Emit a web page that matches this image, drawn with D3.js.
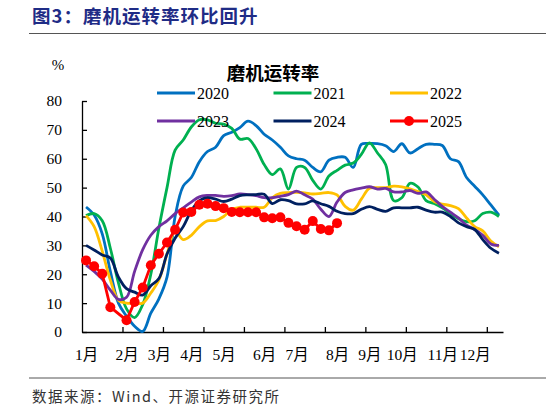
<!DOCTYPE html>
<html>
<head>
<meta charset="utf-8">
<script src="https://cdn.jsdelivr.net/npm/d3@7"></script>
<style>
  body { margin: 0; background: #fff; }
  svg { display: block; }
</style>
</head>
<body>
<svg id="chart" width="546" height="408"></svg>
<script>
// 磨机运转率 (周度, %), 每年 52 周
const years = ["2020", "2021", "2022", "2023", "2024", "2025"];
const colors = ["#0070C0", "#00B050", "#FFC000", "#7030A0", "#002060", "#FF0000"];

const monthLabels = ["1月", "2月", "3月", "4月", "5月", "6月", "7月", "8月", "9月", "10月", "11月", "12月"];
const monthWeeks = [0, 5, 9, 13, 17, 22, 26, 31, 35, 39, 44, 48];
const yTicks = [0, 10, 20, 30, 40, 50, 60, 70, 80];

const rate2020 = [43.3, 40.5, 34, 21, 10, 5.5, 2, 0.2, 6.5, 11.5, 19, 40, 50.5, 53.5, 59, 62.5, 64, 68,
  69.2, 70.8, 73, 71.5, 68.5, 66.5, 64, 61, 60, 59.5, 57, 55.5, 59.5, 60.5, 60.5, 57, 65, 65.3,
  65.2, 64.5, 62.5, 65.2, 62, 63.5, 65, 65, 64.6, 60, 59, 53.5, 50.5, 47.5, 44, 40.5];
const rate2021 = [40.3, 41, 38.5, 29, 17, 8, 5, 9.5, 20, 36, 50, 63, 66.5, 71, 73.5, 73.5, 72.3, 72,
  70.5, 66.8, 67, 63.5, 58, 54.5, 56.5, 49.5, 57, 57, 52.5, 49.5, 54, 56, 57.8, 58.5, 61.5, 65.5,
  62, 58, 45.5, 46.5, 51.5, 50.2, 45.5, 44.5, 43, 41, 39.2, 38.2, 38.5, 41, 41.5, 40];
const rate2022 = [40.3, 36.5, 28, 18, 11, 10, 10, 10, 13.5, 18, 27, 35, 32, 33.5, 36.5, 38.5, 38.6, 40,
  42.5, 43.2, 43.2, 43.2, 43.2, 46.5, 48, 48.3, 48.4, 48.2, 47.8, 48, 48.3, 47.5, 43.5, 42.2, 46, 49.8,
  50, 50, 50.5, 50.3, 49.6, 48.6, 47.5, 45.2, 44.3, 43.8, 42.7, 39.5, 36.5, 35, 31.5, 29.5];
const rate2023 = [23.2, 21, 18.3, 14.5, 11.3, 12, 21, 28.5, 33.5, 36.5, 38.5, 41, 43, 45, 46.8, 47.3, 47.3, 47,
  47.2, 47.8, 47.6, 47.2, 46.5, 46.5, 47, 47.6, 48.8, 47.5, 46, 42.5, 40, 45, 48.3, 49.2, 49.8, 50.3,
  49.5, 49.7, 48.5, 48.5, 49, 48, 48.5, 46, 43.5, 41.5, 39.5, 37, 35.5, 33.5, 30.5, 30];
const rate2024 = [30, 28.4, 26.7, 25.6, 19, 15, 13.8, 12.8, 16, 18.5, 27, 32.5, 36.5, 42, 45.5, 46.5, 46, 45.2,
  46, 47.2, 47.5, 47.6, 47.7, 44.5, 45.8, 45.5, 44.4, 44.4, 45.4, 44.4, 43.5, 41.8, 41, 41, 42.5, 43.4,
  42.5, 41.8, 43, 43, 43, 43.2, 42.2, 41.5, 41.5, 40, 37.8, 36.5, 35.5, 32, 29, 27.3];
const rate2025 = [24.8, 22.8, 20.2, 8.6, null, 4.1, 10.4, 15.4, 23.1, 27.1, 31, 35.4, 41.4, 41.6, 44.1, 44.4,
  43.6, 42.9, 41.6, 41.5, 41.5, 41.5, 39.7, 39.4, 39.7, 37.8, 36.6, 35.4, 38.4, 35.7, 35.2, 37.7];

const seriesValues = [rate2020, rate2021, rate2022, rate2023, rate2024, rate2025];

const svg = d3.select("#chart");
const serif = "'Liberation Serif', 'Times New Roman', 'Noto Sans CJK SC', serif";
const cjk = "'Noto Sans CJK SC', 'Liberation Serif', sans-serif";

// 页眉
svg.append("text")
  .attr("x", 32)
  .attr("y", 23)
  .attr("fill", "#1F2C86")
  .attr("font-family", cjk)
  .attr("font-size", 18.5)
  .attr("font-weight", "bold")
  .attr("letter-spacing", 1)
  .text("图3：磨机运转率环比回升");

svg.append("line")
  .attr("x1", 29).attr("x2", 546)
  .attr("y1", 33.5).attr("y2", 33.5)
  .attr("stroke", "#555").attr("stroke-width", 1);

// 图区
const x = d3.scaleLinear().domain([0, 52]).range([82, 503]);
const y = d3.scaleLinear().domain([0, 80]).range([332, 101]);

const xAxis = svg.append("g")
  .attr("transform", `translate(0,${y(0)})`)
  .call(d3.axisBottom(x)
    .tickValues(d3.range(5, 51, 5))
    .tickSizeInner(-5)
    .tickSizeOuter(0)
    .tickFormat(""));

const xLabels = svg.append("g")
  .attr("transform", `translate(0,${y(0)})`)
  .call(d3.axisBottom(x)
    .tickValues(monthWeeks.map(w => w + 0.5))
    .tickSize(0)
    .tickPadding(17)
    .tickFormat((d, i) => monthLabels[i]));
xLabels.select(".domain").remove();

const yAxis = svg.append("g")
  .attr("transform", `translate(${x(0)},0)`)
  .call(d3.axisLeft(y)
    .tickValues(yTicks)
    .tickSizeInner(-5)
    .tickSizeOuter(0)
    .tickPadding(20));

svg.selectAll(".domain, .tick line")
  .attr("stroke", "#000")
  .attr("stroke-width", 1.3);
svg.selectAll(".tick text")
  .attr("fill", "#000")
  .attr("font-family", serif)
  .attr("font-size", 15.5);

svg.append("text")
  .attr("x", 58)
  .attr("y", 70)
  .attr("text-anchor", "middle")
  .attr("font-family", serif)
  .attr("font-size", 15)
  .text("%");

svg.append("text")
  .attr("x", 273)
  .attr("y", 80)
  .attr("text-anchor", "middle")
  .attr("font-family", cjk)
  .attr("font-size", 18.5)
  .attr("font-weight", "bold")
  .text("磨机运转率");

// 曲线
const smooth = d3.line()
  .defined(d => d.v !== null)
  .x(d => x(d.i + 0.5))
  .y(d => y(d.v))
  .curve(d3.curveCatmullRom.alpha(0.5));

const straight = d3.line()
  .x(d => x(d.i + 0.5))
  .y(d => y(d.v));

const plot = svg.append("g");

seriesValues.forEach((vals, k) => {
  const pts = vals.map((v, i) => ({ i, v }));
  if (k < 5) {
    plot.append("path")
      .attr("d", smooth(pts))
      .attr("fill", "none")
      .attr("stroke", colors[k])
      .attr("stroke-width", 2.8)
      .attr("stroke-linejoin", "round");
  } else {
    const valid = pts.filter(d => d.v !== null);
    plot.append("path")
      .attr("d", straight(valid))
      .attr("fill", "none")
      .attr("stroke", colors[k])
      .attr("stroke-width", 2.8);
    plot.selectAll(".dot25")
      .data(valid)
      .enter()
      .append("circle")
        .attr("class", "dot25")
        .attr("cx", d => x(d.i + 0.5))
        .attr("cy", d => y(d.v))
        .attr("r", 5)
        .attr("fill", colors[k]);
  }
});

// 图例
const legend = svg.append("g");
const lg = legend.selectAll("g")
  .data(years)
  .enter()
  .append("g")
    .attr("transform", (d, i) => `translate(${157 + (i % 3) * 116.5},${93 + Math.floor(i / 3) * 28})`);

lg.append("line")
  .attr("x1", 0).attr("x2", 38)
  .attr("stroke", (d, i) => colors[i])
  .attr("stroke-width", 2.8);

lg.filter(d => d === "2025")
  .append("circle")
  .attr("cx", 19)
  .attr("r", 5)
  .attr("fill", colors[5]);

lg.append("text")
  .attr("x", 40)
  .attr("y", 5.5)
  .attr("font-family", serif)
  .attr("font-size", 16)
  .attr("fill", "#000")
  .text(d => d);

// 页脚
svg.append("line")
  .attr("x1", 29).attr("x2", 546)
  .attr("y1", 378).attr("y2", 378)
  .attr("stroke", "#555").attr("stroke-width", 1);

svg.append("text")
  .attr("x", 32)
  .attr("y", 402)
  .attr("font-family", cjk)
  .attr("font-size", 14.5)
  .attr("letter-spacing", 1.5)
  .attr("fill", "#333")
  .text("数据来源：Wind、开源证券研究所");
</script>
</body>
</html>
